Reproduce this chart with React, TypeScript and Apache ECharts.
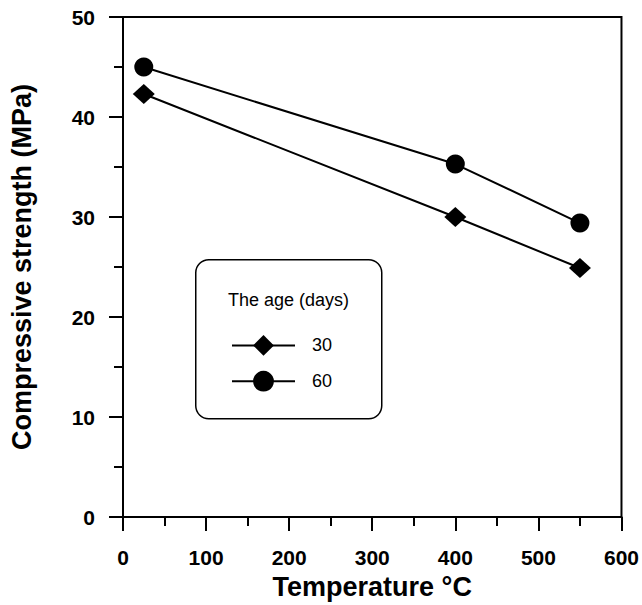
import React, { useEffect, useRef } from "react";
import * as echarts from "echarts";

const temps = [25, 400, 550];
const age30 = [42.3, 30.0, 24.9];
const age60 = [45.0, 35.3, 29.4];
const seriesNames = ["30", "60"];
const legendTitle = "The age (days)";
const xTitle = "Temperature °C";
const yTitle = "Compressive strength (MPa)";

const FONT = "'Liberation Sans', Arial, Helvetica, sans-serif";

export default function App() {
  const ref = useRef<HTMLDivElement>(null);
  useEffect(() => {
    if (!ref.current) return;
    const chart = echarts.init(ref.current, null, { renderer: "svg" });
    const axisCommon = {
      axisLine: { show: true, onZero: false, lineStyle: { color: "#000", width: 2 } },
      axisTick: { show: true, inside: false, length: 14, lineStyle: { color: "#000", width: 2 } },
      minorTick: { show: true, splitNumber: 2, length: 9, lineStyle: { color: "#000", width: 2 } },
      splitLine: { show: false },
      axisLabel: { color: "#000", fontSize: 21, fontWeight: "bold", fontFamily: FONT },
      nameTextStyle: { color: "#000", fontSize: 27, fontWeight: "bold", fontFamily: FONT },
    };
    chart.setOption({
      animation: false,
      backgroundColor: "#fff",
      grid: {
        left: 122,
        right: 20,
        top: 17,
        bottom: 87,
        show: true,
        borderColor: "#000",
        borderWidth: 2,
        backgroundColor: "transparent",
      },
      xAxis: {
        type: "value",
        min: 0,
        max: 600,
        interval: 100,
        name: xTitle,
        nameLocation: "middle",
        nameGap: 54,
        ...axisCommon,
        axisLabel: { ...axisCommon.axisLabel, margin: 30 },
      },
      yAxis: {
        type: "value",
        min: 0,
        max: 50,
        interval: 10,
        name: yTitle,
        nameLocation: "middle",
        nameGap: 88,
        ...axisCommon,
        axisLabel: { ...axisCommon.axisLabel, margin: 28 },
      },
      legend: {
        orient: "vertical",
        left: 226,
        top: 330,
        itemGap: 15,
        itemWidth: 63,
        itemHeight: 26,
        data: seriesNames,
        textStyle: { color: "#000", fontSize: 18, fontFamily: FONT, padding: [0, 0, 0, 12] },
      },
      graphic: [
        {
          type: "rect",
          left: 195,
          top: 259,
          shape: { width: 186, height: 159, r: 13 },
          style: { fill: "#fff", stroke: "#000", lineWidth: 1.5 },
          z: 0,
        },
        {
          type: "text",
          left: 228,
          top: 291,
          style: { text: legendTitle, fill: "#000", fontSize: 18, fontFamily: FONT },
          z: 1,
        },
      ],
      series: [
        {
          name: seriesNames[0],
          type: "line",
          data: temps.map((t, i) => [t, age30[i]]),
          symbol: "diamond",
          symbolSize: [22, 20],
          lineStyle: { color: "#000", width: 2 },
          itemStyle: { color: "#000" },
          z: 5,
        },
        {
          name: seriesNames[1],
          type: "line",
          data: temps.map((t, i) => [t, age60[i]]),
          symbol: "circle",
          symbolSize: 19,
          lineStyle: { color: "#000", width: 2 },
          itemStyle: { color: "#000" },
          z: 5,
        },
      ],
    });
    return () => chart.dispose();
  }, []);
  return <div ref={ref} style={{ width: 642, height: 605, position: "absolute", left: 0, top: 0 }} />;
}
